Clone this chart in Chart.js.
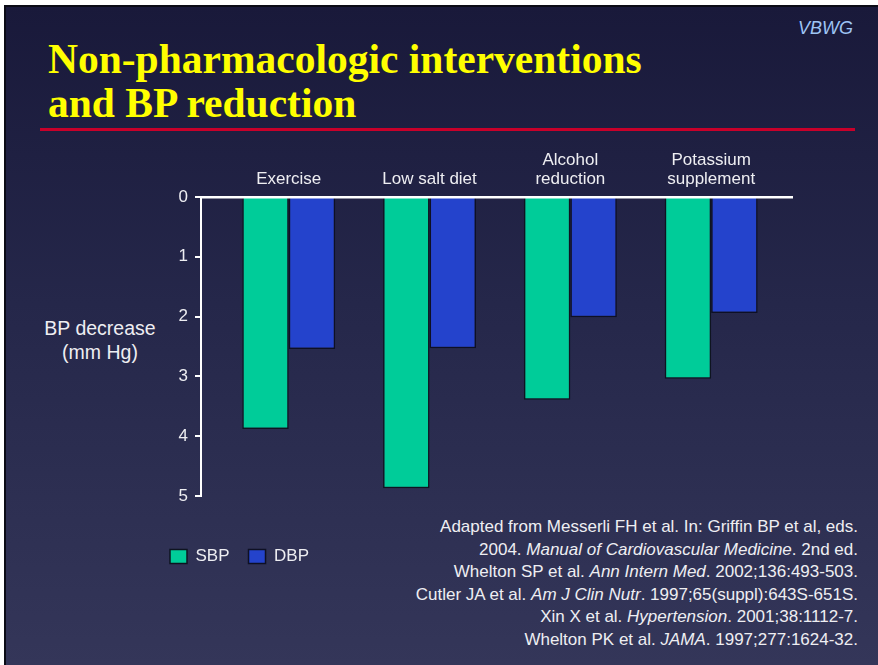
<!DOCTYPE html>
<html>
<head>
<meta charset="utf-8">
<script src="https://cdn.jsdelivr.net/npm/chart.js@4/dist/chart.umd.min.js"></script>
<style>
  html, body { margin: 0; padding: 0; background: #ffffff; }
  body { width: 878px; height: 665px; position: relative; overflow: hidden; font-family: 'Liberation Sans', Arial, sans-serif; }
  .slide {
    position: absolute; left: 4px; top: 5px; width: 874px; height: 660px;
    box-sizing: border-box;
    border-left: 2px solid #0b0b16; border-top: 2px solid #0b0b16;
    background: linear-gradient(to bottom, #19193a 0%, #25274a 45%, #343659 100%);
  }
  .tag { position: absolute; right: 25px; top: 19px; font: italic 18px/1 'Liberation Sans', Arial, sans-serif; color: #9ec4f4; }
  .title {
    position: absolute; left: 48px; top: 37px; margin: 0;
    font: bold 41.5px/44px 'Liberation Serif', 'Times New Roman', serif; color: #ffff00; white-space: nowrap;
  }
  .rule { position: absolute; left: 40px; top: 128px; width: 815px; height: 3px; background: #c8002a; }
  .ytitle {
    position: absolute; left: 20px; top: 316px; width: 160px; text-align: center;
    font: 19.5px/24px 'Liberation Sans', Arial, sans-serif; color: #eeeef2;
  }
  .refs {
    position: absolute; right: 20px; top: 516px; text-align: right; white-space: nowrap;
    font: 17px/22.6px 'Liberation Sans', Arial, sans-serif; color: #eeeef2;
  }
  canvas { position: absolute; left: 0; top: 0; }
</style>
</head>
<body>
<div class="slide"></div>
<div class="tag">VBWG</div>
<h1 class="title">Non-pharmacologic interventions<br>and BP reduction</h1>
<div class="rule"></div>
<div class="ytitle">BP decrease<br>(mm Hg)</div>
<div class="refs">
  Adapted from Messerli FH et al. In: Griffin BP et al, eds.<br>
  2004. <i>Manual of Cardiovascular Medicine</i>. 2nd ed.<br>
  Whelton SP et al. <i>Ann Intern Med</i>. 2002;136:493-503.<br>
  Cutler JA et al. <i>Am J Clin Nutr</i>. 1997;65(suppl):643S-651S.<br>
  Xin X et al. <i>Hypertension</i>. 2001;38:1112-7.<br>
  Whelton PK et al. <i>JAMA</i>. 1997;277:1624-32.
</div>
<canvas id="chart" width="878" height="665"></canvas>
<script>
// Intervention groups (one label line per array entry)
const categories = [
  ['Exercise'],
  ['Low salt diet'],
  ['Alcohol', 'reduction'],
  ['Potassium', 'supplement']
];

// Mean blood pressure decrease, mm Hg
const sbpDecrease = [3.88, 4.87, 3.39, 3.04];
const dbpDecrease = [2.54, 2.53, 2.01, 1.94];

// Value axis ticks
const yTicks = [0, 1, 2, 3, 4, 5];

const textColor = '#eeeef2';
Chart.defaults.font.family = "'Liberation Sans', Arial, sans-serif";

const toPoints = (values) => values.map((v, i) => ({ x: i, y: v }));

new Chart(document.getElementById('chart'), {
  type: 'bar',
  data: {
    datasets: [
      {
        label: 'SBP',
        data: toPoints(sbpDecrease),
        backgroundColor: '#00cc99',
        borderColor: '#0e1420',
        borderWidth: 1.5,
        categoryPercentage: 0.66,
        barPercentage: 1.0
      },
      {
        label: 'DBP',
        data: toPoints(dbpDecrease),
        backgroundColor: '#2443cc',
        borderColor: '#0e1024',
        borderWidth: 1.5,
        categoryPercentage: 0.66,
        barPercentage: 1.0
      }
    ]
  },
  options: {
    responsive: false,
    animation: false,
    layout: { padding: { left: 151, right: 86, top: 137, bottom: 90 } },
    plugins: {
      tooltip: { enabled: false },
      legend: {
        position: 'bottom',
        align: 'start',
        title: { display: true, text: ' ', padding: { top: 21, bottom: 0 }, font: { size: 10 } },
        labels: {
          boxWidth: 17,
          boxHeight: 14,
          padding: 19,
          color: textColor,
          font: { size: 17 }
        }
      }
    },
    scales: {
      x: {
        type: 'linear',
        position: 'top',
        offset: false,
        min: -0.623,
        max: 3.574,
        afterFit: (scale) => { scale.height = 60; },
        afterBuildTicks: (scale) => {
          scale.ticks = categories.map((_, i) => ({ value: i }));
        },
        grid: { display: false, drawTicks: false },
        border: { display: true, color: '#ffffff', width: 2.5, z: 1 },
        ticks: {
          autoSkip: false,
          maxRotation: 0,
          padding: 8,
          color: textColor,
          font: { size: 17, lineHeight: 1.12 },
          callback: (value) => categories[value]
        }
      },
      y: {
        reverse: true,
        min: yTicks[0],
        max: yTicks[yTicks.length - 1],
        afterFit: (scale) => { scale.width = 50; },
        afterBuildTicks: (scale) => {
          scale.ticks = yTicks.map((v) => ({ value: v }));
        },
        grid: {
          display: true,
          drawOnChartArea: false,
          drawTicks: true,
          tickLength: 6,
          color: '#ffffff',
          lineWidth: 2
        },
        border: { display: true, color: '#ffffff', width: 2 },
        ticks: {
          padding: 7,
          color: textColor,
          font: { size: 17 }
        }
      }
    }
  }
});
</script>
</body>
</html>
